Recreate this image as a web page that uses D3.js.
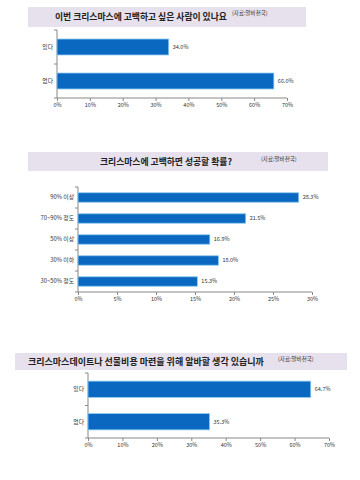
<!DOCTYPE html>
<html>
<head>
<meta charset="utf-8">
<script src="https://cdn.jsdelivr.net/npm/d3@7"></script>
<style>
  body { margin: 0; background: #fff; }
  svg { display: block; }
  text { font-family: "Noto Sans CJK KR", "Noto Sans", sans-serif; }
</style>
</head>
<body>
<svg id="chart" width="360" height="480"></svg>
<script>
// chart 1
const title1 = "이번 크리스마스에 고백하고 싶은 사람이 있나요";
const cats1 = ["있다", "없다"];
const vals1 = [34.0, 66.0];
const ticks1 = [0, 10, 20, 30, 40, 50, 60, 70];

// chart 2
const title2 = "크리스마스에 고백하면 성공할 확률?";
const cats2 = ["90% 이상", "70~90% 정도", "50% 이상", "30% 이하", "30~50% 정도"];
const vals2 = [28.3, 21.5, 16.9, 18.0, 15.3];
const ticks2 = [0, 5, 10, 15, 20, 25, 30];

// chart 3
const title3 = "크리스마스데이트나 선물비용 마련을 위해 알바할 생각 있습니까";
const cats3 = ["있다", "없다"];
const vals3 = [64.7, 35.3];
const ticks3 = [0, 10, 20, 30, 40, 50, 60, 70];

const source = "(자료:알바천국)";

const svg = d3.select("#chart");

function drawChart(opt) {
    const g = svg.append("g");

    // title band
    g.append("rect")
        .attr("x", opt.band[0]).attr("y", opt.band[1])
        .attr("width", opt.band[2]).attr("height", opt.band[3])
        .attr("fill", "#e6e1ec");
    g.append("text")
        .attr("x", opt.titleX).attr("y", opt.band[1] + opt.band[3] / 2)
        .attr("dy", "0.36em")
        .style("font-size", opt.titleSize + "px")
        .style("font-weight", "bold")
        .style("fill", "#222")
        .text(opt.title);
    g.append("text")
        .attr("x", opt.srcX).attr("y", opt.srcY)
        .style("font-size", "5.5px")
        .style("fill", "#333")
        .text(source);

    const x = d3.scaleLinear()
        .domain([0, d3.max(opt.ticks)])
        .range([opt.x0, opt.x1]);
    const y = d3.scaleBand()
        .domain(opt.cats)
        .range([opt.y0, opt.y1])
        .paddingInner(opt.pad)
        .paddingOuter(opt.pad / 2);

    // x axis
    const xAxis = d3.axisBottom(x)
        .tickValues(opt.ticks)
        .tickSize(3)
        .tickFormat(d => d + "%");
    const xa = g.append("g")
        .attr("transform", `translate(0,${opt.y1})`)
        .call(xAxis);
    xa.select(".domain").attr("stroke", "#888").attr("d", `M${opt.x0},0H${opt.x1}`);
    xa.selectAll(".tick line").attr("stroke", "#888");
    xa.selectAll(".tick text")
        .attr("y", 5)
        .style("font-size", "5.5px")
        .style("fill", "#333");

    // y axis
    const yAxis = d3.axisLeft(y).tickSize(0).tickPadding(4);
    const ya = g.append("g")
        .attr("transform", `translate(${opt.x0},0)`)
        .call(yAxis);
    ya.select(".domain").attr("stroke", "#888").attr("d", `M0,${opt.y0}V${opt.y1}`);
    ya.selectAll(".tick text")
        .style("font-size", "5.8px")
        .style("fill", "#333");
    // category boundary ticks
    d3.range(opt.cats.length + 1).forEach(i => {
        const yy = opt.y0 + i * (opt.y1 - opt.y0) / opt.cats.length;
        g.append("line")
            .attr("x1", opt.x0 - 3).attr("x2", opt.x0)
            .attr("y1", yy).attr("y2", yy)
            .attr("stroke", "#888");
    });

    // bars
    g.selectAll("rect.bar")
        .data(opt.vals)
        .enter()
        .append("rect")
        .attr("class", "bar")
        .attr("x", opt.x0)
        .attr("y", (d, i) => y(opt.cats[i]))
        .attr("width", d => x(d) - opt.x0)
        .attr("height", y.bandwidth())
        .attr("fill", "#0a68c0")
        .attr("stroke", "#8ccaf0")
        .attr("stroke-width", 0.8);

    g.selectAll("text.val")
        .data(opt.vals)
        .enter()
        .append("text")
        .attr("class", "val")
        .attr("x", d => x(d) + 4)
        .attr("y", (d, i) => y(opt.cats[i]) + y.bandwidth() / 2)
        .attr("dy", "0.36em")
        .style("font-size", "5.5px")
        .style("fill", "#333")
        .text(d => d.toFixed(1) + "%");
}

drawChart({
    title: title1, cats: cats1, vals: vals1, ticks: ticks1,
    band: [28, 7, 278, 20], titleX: 55, titleSize: 8.8, srcX: 232, srcY: 15,
    x0: 57, x1: 287, y0: 30, y1: 98, pad: 0.53
});

drawChart({
    title: title2, cats: cats2, vals: vals2, ticks: ticks2,
    band: [28, 152, 300, 19], titleX: 100, titleSize: 8.8, srcX: 261, srcY: 161,
    x0: 78, x1: 312, y0: 187, y1: 292, pad: 0.55
});

drawChart({
    title: title3, cats: cats3, vals: vals3, ticks: ticks3,
    band: [15, 353, 332, 17], titleX: 28, titleSize: 9, srcX: 278, srcY: 361,
    x0: 88, x1: 329, y0: 373, y1: 438, pad: 0.5
});
</script>
</body>
</html>
